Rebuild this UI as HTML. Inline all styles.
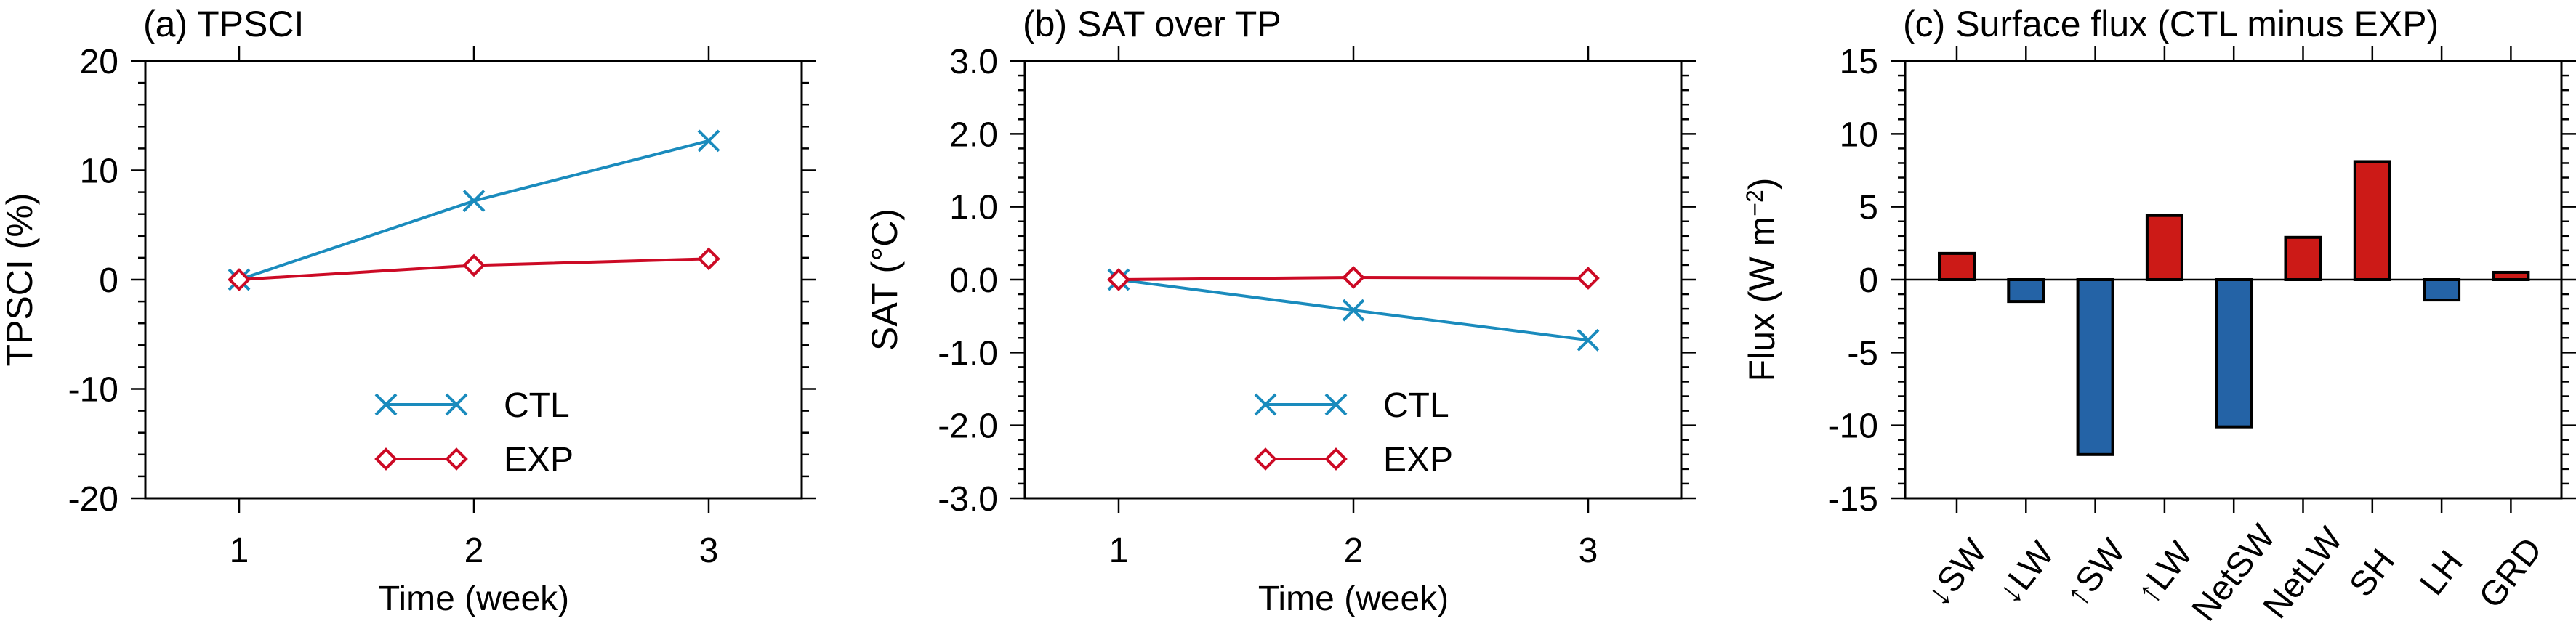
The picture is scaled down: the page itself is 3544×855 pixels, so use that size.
<!DOCTYPE html>
<html><head><meta charset="utf-8">
<style>
html,body{margin:0;padding:0;background:#fff;}
svg{display:block;font-family:"Liberation Sans",Arial,sans-serif;}
</style></head>
<body>
<svg id="fig" width="3544" height="855" viewBox="0 0 3544 855" xmlns="http://www.w3.org/2000/svg"></svg>
<script>
const weeks = [1, 2, 3];
const tpsciCTL = [0, 7.2, 12.7];
const tpsciEXP = [0, 1.3, 1.9];
const satCTL = [0, -0.42, -0.83];
const satEXP = [0, 0.03, 0.02];
const fluxCats = ["↓SW", "↓LW", "↑SW", "↑LW", "NetSW", "NetLW", "SH", "LH", "GRD"];
const fluxVals = [1.8, -1.5, -12.0, 4.4, -10.1, 2.9, 8.1, -1.4, 0.5];
const tpsciTicks = ["-20", "-10", "0", "10", "20"];
const satTicks = ["-3.0", "-2.0", "-1.0", "0.0", "1.0", "2.0", "3.0"];
const fluxTicks = ["-15", "-10", "-5", "0", "5", "10", "15"];

const NS = "http://www.w3.org/2000/svg";
const svg = document.getElementById("fig");
function mk(tag, attrs, parent) {
  const e = document.createElementNS(NS, tag);
  for (const k in attrs) e.setAttribute(k, attrs[k]);
  (parent || svg).appendChild(e);
  return e;
}
const TOP = 84, BOT = 686, W = 903;
const CTLC = "#1a8bbd", EXPC = "#cc0a25";

function frame(g, L, ymin, ymax, majorStep, minorStep, labels, xt) {
  const R = L + W;
  const y = v => BOT - (v - ymin) / (ymax - ymin) * (BOT - TOP);
  const r = mk("rect", {x: L, y: TOP, width: W, height: BOT - TOP, fill: "none", stroke: "#000", "stroke-width": 3}, g);
  
  
  const n = Math.round((ymax - ymin) / minorStep);
  const per = Math.round(majorStep / minorStep);
  for (let i = 0; i <= n; i++) {
    const v = ymin + i * minorStep, yy = y(v);
    const len = (i % per === 0) ? 20 : 10;
    mk("line", {x1: L - len, x2: L, y1: yy, y2: yy, stroke: "#000", "stroke-width": 2.5}, g);
    mk("line", {x1: R, x2: R + len, y1: yy, y2: yy, stroke: "#000", "stroke-width": 2.5}, g);
  }
  labels.forEach((s, i) => {
    const t = mk("text", {x: L - 37, y: y(ymin + i * majorStep) + 17, "text-anchor": "end", "font-size": 48}, g);
    t.textContent = s;
    
    
  });
  xt.forEach(x => {
    mk("line", {x1: x, x2: x, y1: TOP - 20, y2: TOP, stroke: "#000", "stroke-width": 2.5}, g);
    mk("line", {x1: x, x2: x, y1: BOT, y2: BOT + 20, stroke: "#000", "stroke-width": 2.5}, g);
  });
  return y;
}
function txt(g, x, y, s, size, name, extra) {
  const t = mk("text", Object.assign({x: x, y: y, "font-size": size}, extra || {}), g);
  t.textContent = s;
  
  
  return t;
}
function xMark(g, x, y, c) {
  const s = 14;
  mk("path", {d: `M${x-s} ${y-s}L${x+s} ${y+s}M${x-s} ${y+s}L${x+s} ${y-s}`, stroke: c, "stroke-width": 4, fill: "none"}, g);
}
function dMark(g, x, y, c) {
  const s = 13;
  mk("path", {d: `M${x} ${y-s}L${x+s} ${y}L${x} ${y+s}L${x-s} ${y}Z`, stroke: c, "stroke-width": 4, fill: "#fff"}, g);
}
function linePanel(L, ymin, ymax, majorStep, minorStep, labels, ctl, exp, title, ylab, name, ylx) {
  const g = mk("g", {});
  
  
  const x = w => L + 129 + (w - 1) * 323;
  const xt = weeks.map(x);
  const y = frame(g, L, ymin, ymax, majorStep, minorStep, labels, xt);
  weeks.forEach((w, i) => txt(g, x(w), 774, String(w), 48, 'x-tick-label', {"text-anchor": "middle"}));
  txt(g, L + 452, 840, "Time (week)", 48, 'x-axis-title', {"text-anchor": "middle"});
  txt(g, L - 3, 50, title, 50, 'panel-title');
  txt(g, 0, 0, ylab, 50, 'y-axis-title', {"text-anchor": "middle", transform: `translate(${ylx},${(TOP + BOT) / 2}) rotate(-90)`});
  const series = [[ctl, CTLC, xMark, 'ctl-line'], [exp, EXPC, dMark, 'exp-line']];
  series.forEach(([d, c, m, nm]) => {
    const p = mk("polyline", {points: d.map((v, i) => `${x(weeks[i])},${y(v)}`).join(" "), fill: "none", stroke: c, "stroke-width": 4}, g);
    
    
  });
  series.forEach(([d, c, m]) => d.forEach((v, i) => m(g, x(weeks[i]), y(v), c)));
  const lx1 = L + 331, lx2 = L + 428;
  const lg = mk("g", {}, g);
  
  
  mk("line", {x1: lx1, x2: lx2, y1: 557, y2: 557, stroke: CTLC, "stroke-width": 4}, lg);
  xMark(lg, lx1, 557, CTLC); xMark(lg, lx2, 557, CTLC);
  txt(lg, L + 493, 574, "CTL", 48, 'legend-entry-ctl');
  mk("line", {x1: lx1, x2: lx2, y1: 632, y2: 632, stroke: EXPC, "stroke-width": 4}, lg);
  dMark(lg, lx1, 632, EXPC); dMark(lg, lx2, 632, EXPC);
  txt(lg, L + 493, 649, "EXP", 48, 'legend-entry-exp');
}
linePanel(200, -20, 20, 10, 2, tpsciTicks, tpsciCTL, tpsciEXP, "(a) TPSCI", "TPSCI (%)", 'panel-a', 44);
linePanel(1410, -3, 3, 1, 0.2, satTicks, satCTL, satEXP, "(b) SAT over TP", "SAT (°C)", 'panel-b', 1234);

(function () {
  const L = 2621;
  const g = mk("g", {});
  
  
  const x = i => L + 71 + i * 95.3;
  const xt = fluxCats.map((c, i) => x(i));
  const y = frame(g, L, -15, 15, 5, 1, fluxTicks, xt);
  mk("line", {x1: L, x2: L + W, y1: y(0), y2: y(0), stroke: "#000", "stroke-width": 2.5}, g);
  fluxVals.forEach((v, i) => {
    const r = mk("rect", {x: x(i) - 24, y: Math.min(y(v), y(0)), width: 48, height: Math.abs(y(v) - y(0)),
      fill: v >= 0 ? "#cc1a17" : "#2463a6", stroke: "#000", "stroke-width": 4}, g);
    
    
  });
  fluxCats.forEach((c, i) => {
    txt(g, 0, 0, c, 48, 'x-tick-label', {"text-anchor": "middle", "dominant-baseline": "central", transform: `translate(${x(i)},${789}) rotate(-52)`, style: 'font-family:"Liberation Sans","DejaVu Sans",sans-serif'});
  });
  txt(g, L - 3, 50, "(c) Surface flux (CTL minus EXP)", 50, 'panel-title');
  const t = txt(g, 0, 0, "", 50, 'y-axis-title', {"text-anchor": "middle", transform: `translate(${L - 180},${(TOP + BOT) / 2}) rotate(-90)`});
  t.textContent = "Flux (W m";
  const sp = mk("tspan", {"font-size": 32, dy: -16}, t);
  sp.textContent = "−2";
  const sp2 = mk("tspan", {dy: 16}, t);
  sp2.textContent = ")";
})();
</script>
</body></html>
